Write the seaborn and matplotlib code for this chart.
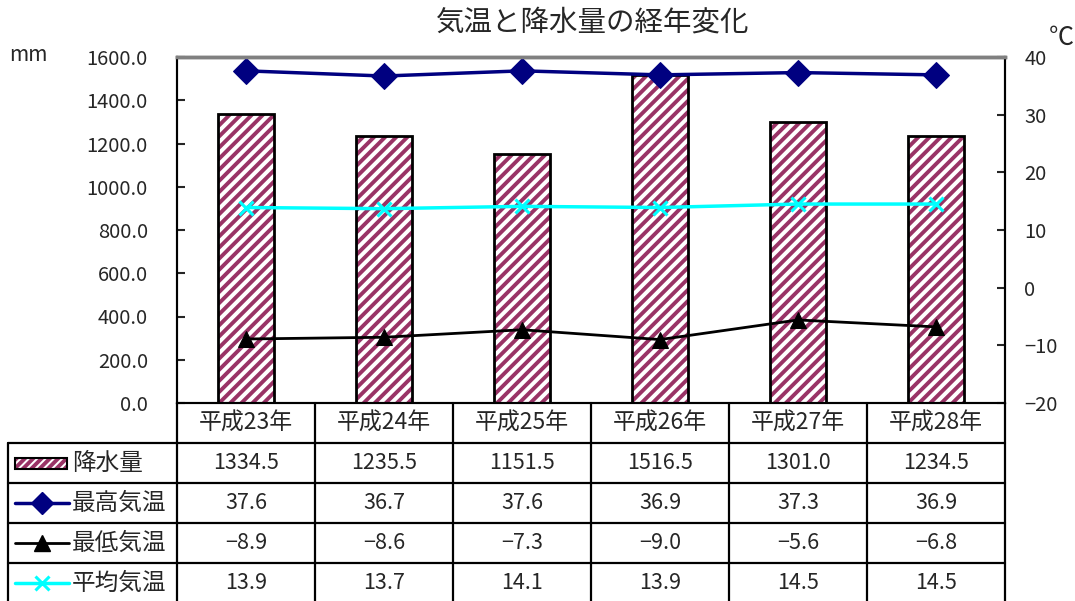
import numpy as np
import pandas as pd
import matplotlib
matplotlib.use("Agg")
import matplotlib.pyplot as plt
import seaborn as sns
from matplotlib.patches import Rectangle

# data
years = ['平成23年', '平成24年', '平成25年', '平成26年', '平成27年', '平成28年']
rain = [1334.5, 1235.5, 1151.5, 1516.5, 1301.0, 1234.5]
t_max = [37.6, 36.7, 37.6, 36.9, 37.3, 36.9]
t_min = [-8.9, -8.6, -7.3, -9.0, -5.6, -6.8]
t_avg = [13.9, 13.7, 14.1, 13.9, 14.5, 14.5]
series_names = ['降水量', '最高気温', '最低気温', '平均気温']
rain_ticks = np.arange(0, 1601, 200)
temp_ticks = np.arange(-20, 41, 10)

maroon = '#993366'
navy = '#000080'
cyan = '#00FFFF'

sns.set_theme(style='white')
plt.rcParams['font.family'] = ['Noto Sans CJK JP', 'DejaVu Sans']
plt.rcParams['hatch.linewidth'] = 2.8

W, H = 1075, 601
fig = plt.figure(figsize=(W / 100, H / 100), dpi=100)


def fx(px):
    return px / W


def fy(py):
    return 1 - py / H


left, right, top, bottom = 177, 1005, 57, 403
ax = fig.add_axes([fx(left), fy(bottom), (right - left) / W, (bottom - top) / H])

df = pd.DataFrame({'year': years, 'rain': rain})
# hatched fill, then black outline on top
sns.barplot(data=df, x='year', y='rain', ax=ax, color='white', width=0.41,
            edgecolor=maroon, linewidth=0, hatch='///', errorbar=None)
sns.barplot(data=df, x='year', y='rain', ax=ax, color='black', width=0.41,
            fill=False, linewidth=2, errorbar=None)
ax.set_xlim(-0.5, len(years) - 0.5)
ax.set_ylim(0, 1600)
ax.set_yticks(rain_ticks)
ax.set_yticklabels([f'{v:.1f}' for v in rain_ticks], fontsize=14.5)
ax.set_xticks([])
ax.set_xlabel('')
ax.set_ylabel('')
ax.tick_params(axis='y', direction='in', length=6, width=1.5, pad=21, left=True)

ax2 = ax.twinx()
xpos = np.arange(len(years))
sns.lineplot(x=xpos, y=t_max, ax=ax2, color=navy, linewidth=2.5, marker='D',
             markersize=13, markeredgecolor=navy)
sns.lineplot(x=xpos, y=t_min, ax=ax2, color='black', linewidth=2, marker='^',
             markersize=12, markeredgecolor='black')
sns.lineplot(x=xpos, y=t_avg, ax=ax2, color=cyan, linewidth=2.5, marker='x',
             markersize=10, markeredgewidth=2.2, markeredgecolor=cyan)
ax2.set_ylim(-20, 40)
ax2.set_yticks(temp_ticks)
ax2.set_yticklabels([f'{v}'.replace('-', '−') for v in temp_ticks], fontsize=14.5)
ax2.tick_params(axis='y', direction='in', length=6, width=1.5, pad=14, right=True)
ax2.set_ylabel('')

for a in (ax, ax2):
    a.spines['top'].set_color('#808080')
    a.spines['top'].set_linewidth(2.5)
    a.spines['left'].set_color('black')
    a.spines['left'].set_linewidth(1.5)
    a.spines['right'].set_color('black')
    a.spines['right'].set_linewidth(1.5)
    a.spines['bottom'].set_color('black')
    a.spines['bottom'].set_linewidth(1.5)

fig.text(fx(593), fy(23), '気温と降水量の経年変化', fontsize=20.5,
         ha='center', va='center')
fig.text(fx(9), fy(55), 'mm', fontsize=15, ha='left', va='center')
fig.text(fx(1049), fy(38), '℃', fontsize=18, ha='left', va='center')

# data table under the plot
tax = fig.add_axes([0, 0, 1, 1])
tax.set_xlim(0, W)
tax.set_ylim(H, 0)
tax.axis('off')

col_x = np.linspace(left, right, len(years) + 1)
row_y = [403, 443, 483, 523, 563, 603]
lw = 1.6
for y in row_y[1:-1]:
    tax.plot([8, right], [y, y], color='black', lw=lw)
tax.plot([8, 8], [row_y[1], H], color='black', lw=lw)
for x in col_x:
    tax.plot([x, x], [row_y[0], H], color='black', lw=lw)

for i, yr in enumerate(years):
    cx = (col_x[i] + col_x[i + 1]) / 2
    tax.text(cx, (row_y[0] + row_y[1]) / 2, yr, fontsize=16.5, ha='center', va='center')

values = [rain, t_max, t_min, t_avg]
for r, (name, vals) in enumerate(zip(series_names, values)):
    cy = (row_y[r + 1] + row_y[r + 2]) / 2
    tax.text(72, cy, name, fontsize=17, ha='left', va='center')
    for i, v in enumerate(vals):
        cx = (col_x[i] + col_x[i + 1]) / 2
        tax.text(cx, cy, f'{v:.1f}'.replace('-', '−'), fontsize=15.5,
                 ha='center', va='center')

# legend keys in the first column
cy = (row_y[1] + row_y[2]) / 2
tax.add_patch(Rectangle((15, cy - 5.5), 52, 11, facecolor='white', edgecolor=maroon,
                        linewidth=0, hatch='////'))
tax.add_patch(Rectangle((15, cy - 5.5), 52, 11, facecolor='none', edgecolor='black',
                        linewidth=1.5))
key_styles = [
    dict(color=navy, lw=2.5, marker='D', ms=11, mec=navy),
    dict(color='black', lw=2, marker='^', ms=11, mec='black'),
    dict(color=cyan, lw=2.5, marker='x', ms=10, mew=2.2, mec=cyan),
]
for r, st in enumerate(key_styles, start=1):
    cy = (row_y[r + 1] + row_y[r + 2]) / 2
    tax.plot([15, 42, 69], [cy, cy, cy], markevery=[1], **st)

fig.savefig('out.png', dpi=100)
